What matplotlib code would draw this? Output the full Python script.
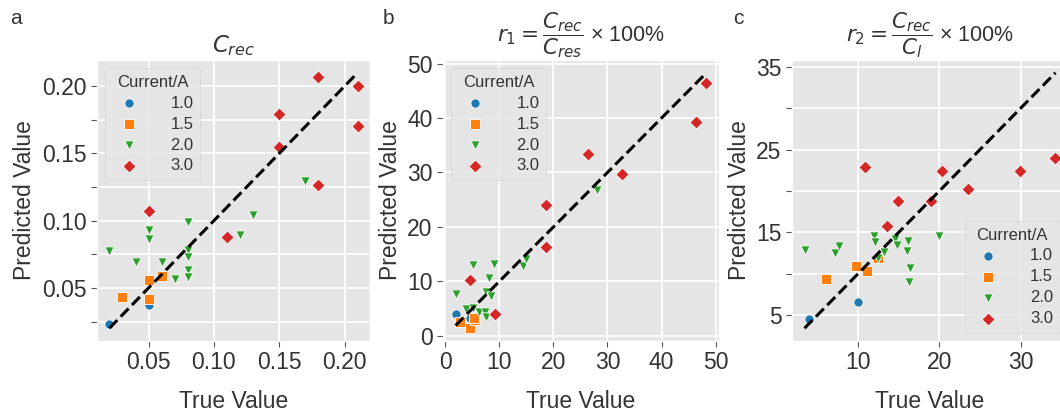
import numpy as np
import matplotlib
matplotlib.use('Agg')
import matplotlib.pyplot as plt

# ---- data ----
currents = ['1.0', '1.5', '2.0', '3.0']

a_true_10 = [0.02, 0.05]
a_pred_10 = [0.0235, 0.0375]
a_true_15 = [0.03, 0.05, 0.05, 0.06]
a_pred_15 = [0.0434, 0.0559, 0.0414, 0.0591]
a_true_20 = [0.02, 0.04, 0.05, 0.05, 0.06, 0.07, 0.08, 0.08, 0.08, 0.08, 0.08, 0.12, 0.13, 0.17]
a_pred_20 = [0.0777, 0.0689, 0.0934, 0.0860, 0.0694, 0.0566, 0.099, 0.078, 0.073, 0.0632, 0.0583,
             0.0892, 0.1039, 0.1297]
a_true_30 = [0.05, 0.11, 0.15, 0.15, 0.18, 0.18, 0.21, 0.21]
a_pred_30 = [0.1069, 0.0877, 0.1551, 0.1797, 0.2066, 0.1262, 0.2005, 0.1703]

b_true_10 = [1.9, 4.5]
b_pred_10 = [4.0, 3.2]
b_true_15 = [2.8, 4.5, 5.45, 5.3]
b_pred_15 = [2.6, 1.4, 2.9, 3.3]
b_true_20 = [2.0, 5.1, 9.0, 8.0, 7.5, 8.5, 3.8, 5.1, 6.25, 7.3, 7.5, 14.3, 14.9, 28.0]
b_pred_20 = [7.7, 13.0, 13.2, 10.7, 8.0, 7.4, 5.0, 5.2, 4.4, 4.3, 3.4, 12.9, 14.1, 26.8]
b_true_30 = [4.6, 9.2, 18.6, 18.7, 26.4, 32.6, 46.3, 48.3]
b_pred_30 = [10.3, 4.0, 24.1, 16.4, 33.3, 29.8, 39.3, 46.4]

c_true_10 = [3.9, 10.0]
c_pred_10 = [4.5, 6.6]
c_true_15 = [6.1, 9.75, 11.1, 12.5]
c_pred_15 = [9.4, 10.9, 10.3, 11.9]
c_true_20 = [3.4, 7.2, 7.6, 11.9, 12.1, 12.4, 13.2, 14.6, 14.8, 16.2, 16.0, 16.4, 16.3, 20.0]
c_pred_20 = [12.9, 12.5, 13.3, 14.6, 13.8, 11.9, 12.6, 14.2, 13.5, 13.95, 12.7, 10.7, 9.0, 14.55]
c_true_30 = [10.9, 20.3, 23.55, 14.9, 19.0, 13.5, 29.9, 34.3]
c_pred_30 = [22.9, 22.45, 20.25, 18.75, 18.8, 15.75, 22.4, 24.0]

a_xticks = [0.05, 0.10, 0.15, 0.20]
a_yticks = [0.025, 0.05, 0.075, 0.10, 0.125, 0.15, 0.175, 0.20]
a_ylabels = ['', '0.05', '', '0.10', '', '0.15', '', '0.20']
b_ticks = [0, 10, 20, 30, 40, 50]
c_xticks = [10, 20, 30]
c_yticks = [5, 10, 15, 20, 25, 30, 35]
c_ylabels = ['5', '', '15', '', '25', '', '35']

plt.style.use('ggplot')
plt.rcParams['font.family'] = ['Liberation Sans', 'DejaVu Sans']
plt.rcParams['mathtext.fontset'] = 'dejavusans'
txt = '#333333'

colors = ['#1f77b4', '#ff7f0e', '#2ca02c', '#d62728']
markers = ['o', 's', 'v', 'D']

W, H = 1060, 416
fig = plt.figure(figsize=(W / 100, H / 100), dpi=100)


def make_ax(left, right, top=60, bottom=341):
    return fig.add_axes([left / W, (H - bottom) / H, (right - left) / W, (bottom - top) / H])


def panel(ax, groups, legend_loc):
    allx = []
    for (x, y), c, m, lab in zip(groups, colors, markers, currents):
        ax.scatter(x, y, s=44, c=c, marker=m, edgecolors='white', linewidths=0.6,
                   label=lab, zorder=3)
        allx += list(x)
    lo, hi = min(allx), max(allx)
    ax.plot([lo, hi], [lo, hi], color='black', ls='--', lw=2.2, zorder=4)
    ax.grid(True, color='white', lw=1.2)
    ax.set_facecolor('#E5E5E5')
    ax.tick_params(labelsize=16.5, colors='#555555', labelcolor=txt, length=4)
    ax.set_xlabel('True Value', fontsize=16.5, color=txt, labelpad=11)
    ax.set_ylabel('Predicted Value', fontsize=16.5, color=txt)
    leg = ax.legend(title='Current/A', loc=legend_loc, fontsize=12, title_fontsize=12,
                    markerscale=1.0, handletextpad=1.5, labelspacing=0.35)
    leg.get_frame().set_facecolor('#E5E5E5')
    leg.get_frame().set_edgecolor('#D0D0D0')
    for t in leg.get_texts():
        t.set_color(txt)
    leg.get_title().set_color(txt)


ax1 = make_ax(97, 370)
panel(ax1, [(a_true_10, a_pred_10), (a_true_15, a_pred_15),
            (a_true_20, a_pred_20), (a_true_30, a_pred_30)], 'upper left')
ax1.set_xticks(a_xticks, ['0.05', '0.10', '0.15', '0.20'])
ax1.set_yticks(a_yticks, a_ylabels)
ax1.set_title(r'$C_{rec}$', fontsize=16.5, color=txt, pad=6)

ax2 = make_ax(443, 719)
panel(ax2, [(b_true_10, b_pred_10), (b_true_15, b_pred_15),
            (b_true_20, b_pred_20), (b_true_30, b_pred_30)], 'upper left')
ax2.set_xticks(b_ticks)
ax2.set_yticks(b_ticks)
ax2.set_title(r'$r_1 = \dfrac{C_{rec}}{C_{res}}$ × 100%', fontsize=15.5, color=txt, pad=0)

ax3 = make_ax(792, 1068)
panel(ax3, [(c_true_10, c_pred_10), (c_true_15, c_pred_15),
            (c_true_20, c_pred_20), (c_true_30, c_pred_30)], 'lower right')
ax3.set_xticks(c_xticks)
ax3.set_yticks(c_yticks, c_ylabels)
ax3.set_title(r'$r_2 = \dfrac{C_{rec}}{C_l}$ × 100%', fontsize=15.5, color=txt, pad=0)

for x, lab in [(10, 'a'), (383, 'b'), (733, 'c')]:
    fig.text(x / W, 1 - 24 / H, lab, fontsize=15, color=txt, va='baseline')

fig.savefig('out.png', dpi=100)
